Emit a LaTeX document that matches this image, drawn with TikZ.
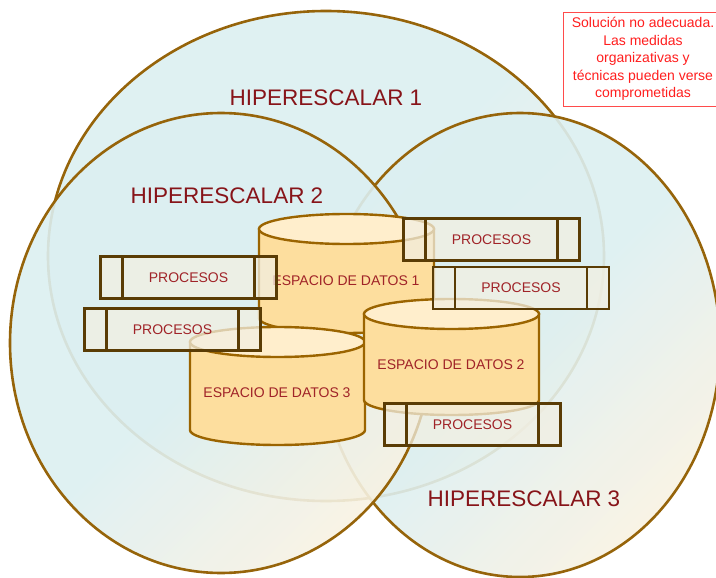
\documentclass[tikz,border=0pt]{standalone}
\usepackage{fontspec}
\setmainfont{Liberation Sans}
\usetikzlibrary{shapes.geometric}
\definecolor{hip_azul}{RGB}{220,239,241}
\definecolor{hip_crema}{RGB}{248,242,226}
\definecolor{hip_borde}{RGB}{150,100,10}
\definecolor{hip_texto}{RGB}{135,20,25}
\definecolor{cyl_cuerpo}{RGB}{253,222,158}
\definecolor{cyl_tapa}{RGB}{255,238,204}
\definecolor{cyl_borde}{RGB}{155,100,0}
\definecolor{pr_fondo}{RGB}{242,239,226}
\definecolor{pr_borde}{RGB}{90,60,5}
\definecolor{et_texto}{RGB}{160,35,40}
\definecolor{nota_rojo}{RGB}{255,30,30}
\tikzstyle{hc}=[ellipse,draw=hip_borde,line width=2.6pt,inner sep=0pt,
  top color=hip_azul,bottom color=hip_crema,middle color=hip_azul,
  shading angle=45,fill opacity=0.9]
\tikzstyle{hl}=[text=hip_texto,font=\fontsize{22.5}{27}\selectfont]
\tikzstyle{ed}=[draw=cyl_borde,line width=2.4pt,fill=cyl_cuerpo]
\tikzstyle{edtapa}=[draw=cyl_borde,line width=2.4pt,fill=cyl_tapa]
\tikzstyle{et}=[text=et_texto,font=\fontsize{14}{16}\selectfont]
\tikzstyle{pr}=[rectangle,draw=pr_borde,line width=2.4pt,fill=pr_fondo,
  fill opacity=0.75,text opacity=1,minimum width=176pt,minimum height=42pt,
  inner sep=0pt,text=et_texto,font=\fontsize{14}{16}\selectfont,
  path picture={\draw[pr_borde,line width=2.4pt]
    ([xshift=22pt]path picture bounding box.north west) -- ([xshift=22pt]path picture bounding box.south west)
    ([xshift=-22pt]path picture bounding box.north east) -- ([xshift=-22pt]path picture bounding box.south east);}]
\tikzstyle{nota}=[rectangle,draw=nota_rojo!80,line width=0.8pt,text=nota_rojo,
  align=center,font=\fontsize{14}{17.5}\selectfont,
  minimum width=160pt,minimum height=94pt,inner sep=0pt]

\begin{document}
\begin{tikzpicture}[x=1pt,y=-1pt]
    \useasboundingbox (0,0) rectangle (716,578);
            % hiperescalares
            \node [style=hc, minimum width=556pt, minimum height=490pt] (h1) at (326, 256) {};
            \node [style=hc, minimum width=400pt, minimum height=464pt] (h3) at (520, 345) {};
            \node [style=hc, minimum width=422pt, minimum height=460pt] (h2) at (221, 343) {};
            \node [style=hl] (h1t) at (326, 98) {HIPERESCALAR 1};
            \node [style=hl] (h2t) at (227, 196) {HIPERESCALAR 2};
            \node [style=hl] (h3t) at (524, 499) {HIPERESCALAR 3};
            % espacios de datos
            \draw [style=ed] (259, 229) -- (259, 318) arc [start angle=180, end angle=0, x radius=87.5, y radius=15] -- (434, 229) -- cycle;
            \draw [style=edtapa] (346.5, 229) ellipse [x radius=87.5, y radius=15];
            \node [style=et] (d1) at (346, 281) {ESPACIO DE DATOS 1};
            \draw [style=ed] (190, 342) -- (190, 430) arc [start angle=180, end angle=0, x radius=87.5, y radius=15] -- (365, 342) -- cycle;
            \draw [style=edtapa] (277.5, 342) ellipse [x radius=87.5, y radius=15];
            \node [style=et] (d3) at (277, 393) {ESPACIO DE DATOS 3};
            \draw [style=ed] (364, 314) -- (364, 400) arc [start angle=180, end angle=0, x radius=87.5, y radius=15] -- (539, 314) -- cycle;
            \draw [style=edtapa] (451.5, 314) ellipse [x radius=87.5, y radius=15];
            \node [style=et] (d2) at (451, 365) {ESPACIO DE DATOS 2};
            % procesos
            \node [style=pr] (p1) at (188.5, 277.5) {PROCESOS};
            \node [style=pr] (p2) at (172.5, 329.5) {PROCESOS};
            \node [style=pr] (p3) at (491.5, 239.5) {PROCESOS};
            \node [style=pr] (p4) at (521, 288) {PROCESOS};
            \node [style=pr] (p5) at (472.5, 424.5) {PROCESOS};
            \node [style=nota, fill=white] (n) at (643, 59) {Solución no adecuada.\\Las medidas\\organizativas y\\técnicas pueden verse\\comprometidas};
    \end{tikzpicture}
\end{document}
